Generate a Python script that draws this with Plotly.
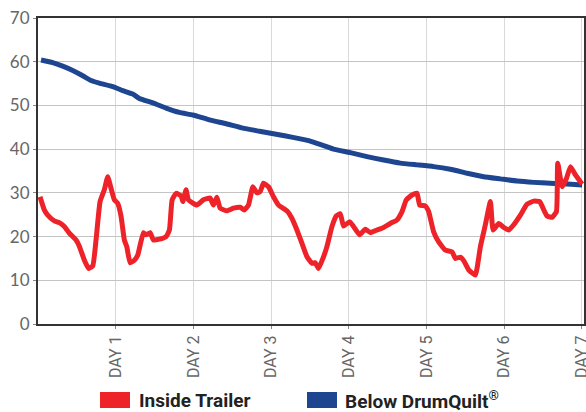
import plotly.graph_objects as go

# ---- data ----
inside_day = [0.026, 0.081, 0.125, 0.210, 0.274, 0.339, 0.403, 0.490, 0.532, 0.597, 0.653, 0.705,
              0.747, 0.799, 0.854, 0.898, 0.941, 0.983, 1.027, 1.070, 1.112, 1.143, 1.186, 1.241,
              1.285, 1.357, 1.392, 1.443, 1.486, 1.563, 1.649, 1.692, 1.727, 1.778, 1.843, 1.865,
              1.907, 1.937, 2.045, 2.130, 2.216, 2.259, 2.303, 2.345, 2.432, 2.517, 2.603, 2.655,
              2.710, 2.767, 2.818, 2.861, 2.903, 2.968, 3.032, 3.097, 3.205, 3.269, 3.334, 3.398,
              3.463, 3.527, 3.570, 3.612, 3.677, 3.720, 3.785, 3.840, 3.892, 3.934, 4.012, 4.063,
              4.141, 4.214, 4.278, 4.365, 4.450, 4.536, 4.622, 4.687, 4.742, 4.816, 4.880, 4.914,
              4.987, 5.030, 5.094, 5.159, 5.245, 5.331, 5.374, 5.438, 5.481, 5.545, 5.631, 5.696,
              5.760, 5.825, 5.860, 5.932, 5.996, 6.061, 6.125, 6.211, 6.297, 6.383, 6.460, 6.512,
              6.555, 6.620, 6.675, 6.692, 6.749, 6.804, 6.856, 6.920, 7.006]
inside_temp = [29.1, 26.1, 24.9, 23.6, 23.2, 22.3, 20.8, 19.2, 17.8, 14.6, 12.7, 13.3,
               19.2, 28.0, 30.7, 33.7, 31.0, 28.4, 27.6, 24.6, 19.2, 17.7, 14.0, 14.6,
               15.8, 20.9, 20.4, 20.9, 19.2, 19.4, 20.0, 21.5, 28.4, 29.9, 29.3, 28.0,
               30.7, 28.4, 27.2, 28.4, 28.8, 27.2, 29.0, 26.5, 25.9, 26.5, 26.7, 26.1,
               27.2, 31.4, 30.0, 30.3, 32.2, 31.4, 29.1, 27.2, 25.9, 24.2, 21.5, 18.5,
               15.4, 13.9, 14.0, 12.7, 15.4, 17.7, 22.3, 24.7, 25.2, 22.4, 23.4, 22.3,
               20.4, 21.7, 20.9, 21.5, 22.1, 23.0, 23.8, 25.7, 28.4, 29.5, 29.9, 27.2,
               27.0, 25.7, 21.1, 18.8, 16.9, 16.5, 15.0, 15.3, 14.5, 12.4, 11.2, 17.7,
               22.7, 28.0, 21.5, 23.0, 22.1, 21.5, 22.7, 24.9, 27.4, 28.1, 28.0, 26.1,
               24.7, 24.4, 25.7, 36.8, 31.4, 33.3, 36.0, 34.1, 32.0]

below_day = [0.039, 0.189, 0.318, 0.447, 0.576, 0.683, 0.790, 0.963, 1.091, 1.220, 1.305,
             1.478, 1.649, 1.821, 1.994, 2.207, 2.423, 2.638, 2.852, 3.067, 3.282, 3.496,
             3.677, 3.805, 4.021, 4.236, 4.450, 4.665, 4.880, 5.094, 5.309, 5.525, 5.738,
             5.954, 6.169, 6.383, 6.598, 6.813, 7.006]
below_temp = [60.4, 59.8, 59.0, 58.0, 56.8, 55.7, 55.1, 54.3, 53.4, 52.6, 51.6,
              50.6, 49.4, 48.4, 47.8, 46.7, 45.8, 44.8, 44.1, 43.4, 42.7, 41.9,
              40.8, 40.0, 39.2, 38.3, 37.5, 36.8, 36.4, 36.0, 35.4, 34.5, 33.7,
              33.2, 32.7, 32.4, 32.2, 32.0, 31.8]

day_ticks = [1, 2, 3, 4, 5, 6, 7]
day_labels = ["DAY 1", "DAY 2", "DAY 3", "DAY 4", "DAY 5", "DAY 6", "DAY 7"]
y_ticks = [0, 10, 20, 30, 40, 50, 60, 70]
series_names = ["Inside Trailer", "Below DrumQuilt<sup>®</sup>"]

RED = "#EE2229"
BLUE = "#1E4590"
NARROW = "Liberation Sans Narrow, Arial Narrow, Roboto, sans-serif"

fig = go.Figure()
fig.add_trace(go.Scatter(x=below_day, y=below_temp, mode="lines",
                         line=dict(color=BLUE, width=5, shape="spline", smoothing=0.4),
                         showlegend=False, hoverinfo="skip", cliponaxis=False))
fig.add_trace(go.Scatter(x=inside_day, y=inside_temp, mode="lines",
                         line=dict(color=RED, width=5, shape="spline", smoothing=0.4),
                         showlegend=False, hoverinfo="skip", cliponaxis=False))

W, H = 586, 412
ml, mr, mt, mb = 38, 2, 18, 88
pw, ph = W - ml - mr, H - mt - mb

def px(x):
    return (x - ml) / pw

def py(y):
    return (H - mb - y) / ph

# manual legend
legend_items = [(100, 130, 137, RED, series_names[0]), (307, 337, 343, BLUE, series_names[1])]
for x0, x1, xt, col, name in legend_items:
    fig.add_shape(type="rect", xref="paper", yref="paper",
                  x0=px(x0), x1=px(x1), y0=py(408), y1=py(392),
                  fillcolor=col, line=dict(width=0))
    fig.add_annotation(xref="paper", yref="paper", x=px(xt), y=py(400),
                       xanchor="left", yanchor="middle", showarrow=False,
                       text="<b>" + name + "</b>",
                       font=dict(family=NARROW, size=19, color="#222"))

fig.update_layout(
    width=W, height=H,
    margin=dict(l=ml, r=mr, t=mt, b=mb, autoexpand=False),
    plot_bgcolor="white", paper_bgcolor="white",
    showlegend=False,
)
fig.update_xaxes(range=[0, 7.03], tickvals=day_ticks, ticktext=day_labels, tickangle=-90,
                 automargin=False, ticklabeloverflow="allow",
                 showgrid=True, gridcolor="#d9d9d9", gridwidth=1,
                 showline=True, linecolor="#333", linewidth=2, mirror=True,
                 ticks="outside", ticklen=3, tickcolor="#888",
                 tickfont=dict(family=NARROW, size=16, color="#666"),
                 zeroline=False)
fig.update_yaxes(range=[0, 70], tickvals=y_ticks,
                 automargin=False,
                 showgrid=True, gridcolor="#c4c4c4", gridwidth=1,
                 showline=True, linecolor="#333", linewidth=2, mirror=True,
                 ticks="outside", ticklen=3, tickcolor="#888",
                 tickfont=dict(family="Lato, Open Sans, sans-serif", size=17, color="#666"),
                 zeroline=False)

fig.write_html("out.html", config={"displayModeBar": False},
               post_script="document.body.style.margin='0';")
